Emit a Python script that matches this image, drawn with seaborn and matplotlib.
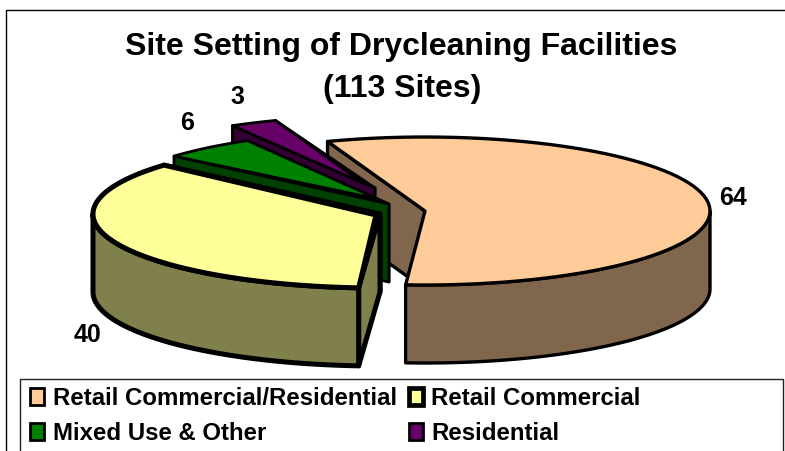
import numpy as np
import matplotlib
matplotlib.use("Agg")
import matplotlib.pyplot as plt
from matplotlib.patches import Polygon, Rectangle
import seaborn as sns

categories = ["Retail Commercial/Residential", "Retail Commercial", "Mixed Use & Other", "Residential"]
site_counts = [64, 40, 6, 3]
colors = ["#FFCC99", "#FFFF99", "#008000", "#660066"]
title_lines = ["Site Setting of Drycleaning Facilities", "(113 Sites)"]

sns.set_theme(style="white")
plt.rcParams['font.family'] = ['Liberation Sans', 'DejaVu Sans']
plt.rcParams['text.color'] = 'black'
palette = sns.color_palette(colors)
sides = [tuple(c * 0.5 for c in col) for col in palette]

fig = plt.figure(figsize=(7.85, 4.51), dpi=100, facecolor="white")
ax = fig.add_axes([0, 0, 1, 1])
ax.set_xlim(0, 785)
ax.set_ylim(451, 0)
ax.axis("off")

RX, RY, DEPTH = 285, 74, 78
START = -20.0
total = sum(site_counts)
cum = np.cumsum([0] + site_counts) / total * 360 + START
# slice geometry: arc centre, top-face apex, side-face apex, edge width, label position
centers = [(425, 211), (378, 214), (388, 205), (373, 190)]
top_apex = [(425, 211), (376, 215), (378, 199), (363, 183)]
side_apex = [(425, 211), (380, 214), (389, 204), (375, 188)]
widths = [2.4, 3.6, 2.0, 2.0]
label_pos = [(733, 198), (88, 335), (187, 123), (237, 97)]


def arc(i, a0=None, a1=None):
    a0 = cum[i] if a0 is None else a0
    a1 = cum[i + 1] if a1 is None else a1
    t = np.radians(np.linspace(a0, a1, 80))
    cx, cy = centers[i]
    return np.column_stack([cx + RX * np.sin(t), cy - RY * np.cos(t)])


def poly(pts, fc, lw, z):
    ax.add_patch(Polygon(pts, closed=True, facecolor=fc, edgecolor="black",
                         linewidth=lw, joinstyle="round", zorder=z))


def down(pts):
    return np.asarray(pts, float) + [0, DEPTH]


def draw_slice(i, z):
    lw = widths[i]
    # radial faces of the slice
    end = arc(i)[-1]
    sa = side_apex[i]
    poly([end, sa, down(sa), down(end)], sides[i], lw, z)
    start = arc(i)[0]
    poly([start, sa, down(sa), down(start)], sides[i], lw, z)
    # outer wall
    a0, a1 = cum[i], cum[i + 1]
    lo, hi = max(a0, 90), min(a1, 270)
    if lo < hi:
        wall = arc(i, lo, hi)
        poly(np.vstack([wall, down(wall)[::-1]]), sides[i], lw, z + 0.1)
    poly(np.vstack([arc(i), [top_apex[i]]]), palette[i], lw, z + 0.2)


# hidden inner wall of the largest slice sits behind the small slices
st = arc(0)[0]
poly([st, centers[0], down(centers[0]), down(st)], sides[0], widths[0], 1)
draw_slice(3, 2)
draw_slice(2, 3)
draw_slice(1, 4)
# largest slice: outer wall and top
wall = arc(0, 90, cum[1])
poly(np.vstack([wall, down(wall)[::-1]]), sides[0], widths[0], 5)
poly(np.vstack([arc(0), [top_apex[0]]]), palette[0], widths[0], 5.2)

for v, (x, y) in zip(site_counts, label_pos):
    ax.text(x, y, str(v), ha="center", va="center", fontsize=18, fontweight="bold", color="black", zorder=8)

ax.text(401, 47, title_lines[0], ha="center", va="center", fontsize=23, fontweight="bold", color="black")
ax.text(402, 89, title_lines[1], ha="center", va="center", fontsize=23, fontweight="bold", color="black")

# outer chart frame and legend box
ax.add_patch(Rectangle((6, 10), 790, 460, fill=False, edgecolor="black", linewidth=1.0, zorder=0))
ax.add_patch(Rectangle((20, 379), 763, 80, facecolor="white", edgecolor="#222222", linewidth=1.0, zorder=9))

handles = [Rectangle((0, 0), 1, 1, facecolor=palette[i], edgecolor="black",
                     linewidth=3.4 if i == 1 else 2.0) for i in range(4)]
# matplotlib fills columns first: reorder so rows read as in the reference
order = [0, 2, 1, 3]
leg = ax.legend([handles[i] for i in order], [categories[i] for i in order], ncol=2,
                loc="upper left", bbox_to_anchor=(30 / 785, 1 - 387 / 451),
                frameon=False, prop={"size": 17.3, "weight": "bold"},
                handlelength=0.6, handleheight=0.68, handletextpad=0.34,
                columnspacing=0.5, labelspacing=0.5, borderaxespad=0, borderpad=0)
leg.set_zorder(10)

fig.savefig("out.png", dpi=100)
